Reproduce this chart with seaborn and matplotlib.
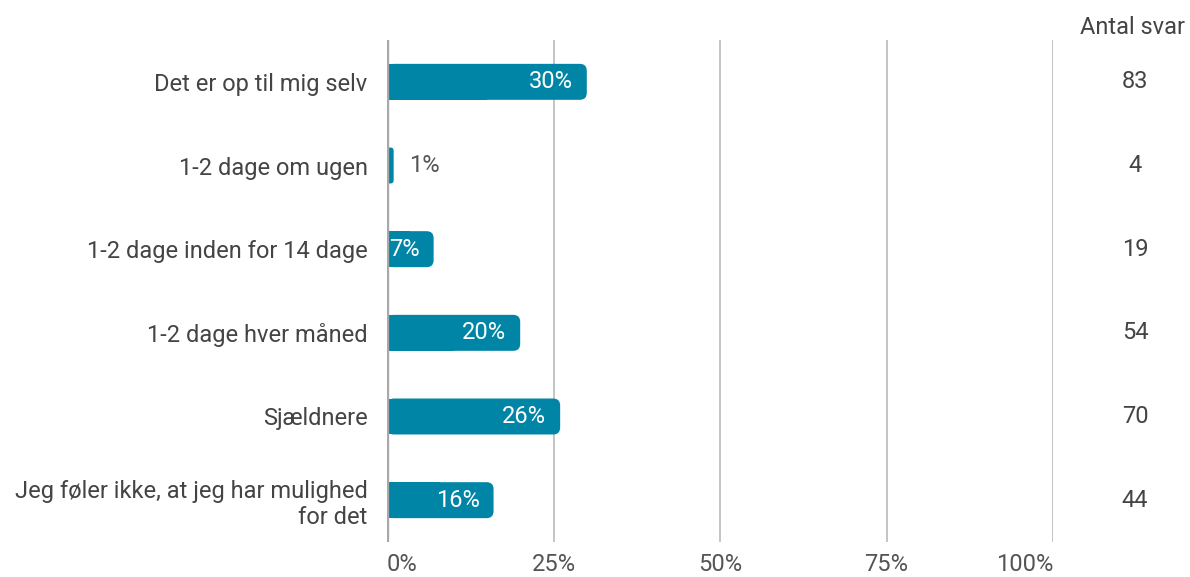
import matplotlib
matplotlib.use("Agg")
import matplotlib.pyplot as plt
import seaborn as sns
import pandas as pd
from matplotlib.patches import FancyBboxPatch, Rectangle

categories = [
    "Det er op til mig selv",
    "1-2 dage om ugen",
    "1-2 dage inden for 14 dage",
    "1-2 dage hver måned",
    "Sjældnere",
    "Jeg føler ikke, at jeg har mulighed\nfor det",
]
percent = [30, 1, 7, 20, 26, 16]
antal_svar = [83, 4, 19, 54, 70, 44]
tick_values = [0, 25, 50, 75, 100]
tick_labels = ["0%", "25%", "50%", "75%", "100%"]

sns.set_theme(style="white")
plt.rcParams["font.family"] = ["Roboto", "DejaVu Sans"]

bar_color = "#0085A6"
text_color = "#444444"
fs = 17

df = pd.DataFrame({"cat": categories, "pct": percent})

fig = plt.figure(figsize=(11.9, 5.77), dpi=100)
ax = fig.add_axes([387 / 1190, (577 - 542) / 577, (1053 - 387) / 1190, (542 - 40) / 577])

sns.barplot(data=df, x="pct", y="cat", orient="h", color=bar_color, width=0.43,
            saturation=1, ax=ax)

ax.set_xlim(0, 100)
ax.set_ylim(len(categories) - 0.5, -0.5)

# Replace bars by rounded-right-corner versions
x_per_px = 100 / (1053 - 387)
y_per_px = 1 / ((542 - 40) / 6)
radius_px = 7
r = radius_px * x_per_px
aspect = y_per_px / x_per_px
for p in list(ax.patches):
    x0, y0 = p.get_x(), p.get_y()
    w, h = p.get_width(), p.get_height()
    p.set_visible(False)
    fb = FancyBboxPatch((x0, y0), w, h,
                        boxstyle=f"round,pad=0,rounding_size={min(r, w / 2 + 1e-9)}",
                        mutation_aspect=aspect, facecolor=bar_color, edgecolor="none",
                        zorder=2)
    ax.add_patch(fb)
    ax.add_patch(Rectangle((x0, y0), w / 2, h, facecolor=bar_color, edgecolor="none",
                           zorder=2))

# Value labels
for i, v in enumerate(percent):
    if v < 5:
        ax.text(v + 15 * x_per_px, i, f"{v}%", ha="left", va="center",
                color="#555555", fontsize=fs, zorder=4)
    else:
        ax.text(v - 14 * x_per_px, i, f"{v}%", ha="right", va="center",
                color="white", fontsize=fs, zorder=4)

# Grid & axis
for t in tick_values[1:]:
    ax.axvline(t, color="#c4c4c4", lw=1.4, zorder=1)
ax.axvline(0, color="#a8a8a8", lw=2.4, zorder=3)
for s in ax.spines.values():
    s.set_visible(False)

ax.set_xticks(tick_values)
ax.set_xticklabels(tick_labels)
ax.tick_params(axis="x", length=0, pad=8, labelsize=fs, labelcolor="#555555")
ax.tick_params(axis="y", length=0, pad=14, labelsize=fs, labelcolor=text_color)
labs = ax.get_xticklabels()
labs[0].set_ha("left")
labs[-1].set_ha("right")
ax.set_xlabel("")
ax.set_ylabel("")

# Antal svar column
xcol = 1135 / 1190
trans = matplotlib.transforms.blended_transform_factory(fig.transFigure, ax.transData)
for i, n in enumerate(antal_svar):
    ax.text(xcol, i, str(n), transform=trans, ha="center", va="center",
            fontsize=fs, color=text_color, clip_on=False)
fig.text(1133 / 1190, 1 - 28 / 577, "Antal svar", ha="center", va="center",
         fontsize=fs, color=text_color)

fig.savefig("out.png", dpi=100)
